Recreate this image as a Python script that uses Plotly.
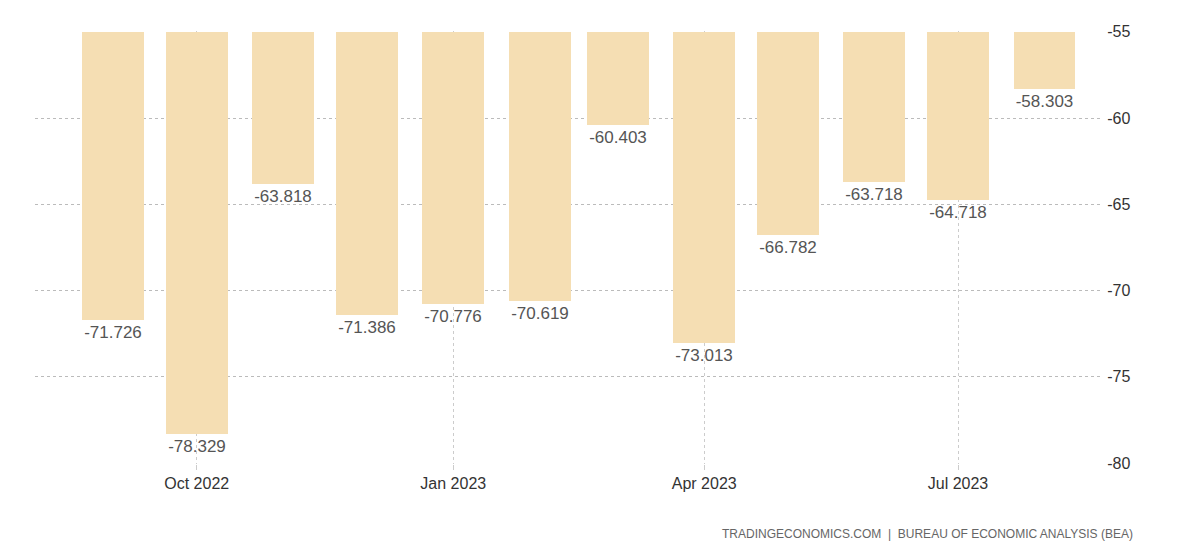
import plotly.graph_objects as go

months = ["2022-09-01", "2022-10-01", "2022-11-01", "2022-12-01", "2023-01-01", "2023-02-01",
          "2023-03-01", "2023-04-01", "2023-05-01", "2023-06-01", "2023-07-01", "2023-08-01"]
balance = [-71.726, -78.329, -63.818, -71.386, -70.776, -70.619,
           -60.403, -73.013, -66.782, -63.718, -64.718, -58.303]
y_ticks = [-55, -60, -65, -70, -75, -80]
base_level = -55

fig = go.Figure(go.Bar(
    x=months, y=[v - base_level for v in balance], base=base_level,
    marker=dict(color="#F5DEB3", line=dict(width=0)),
    width=62 * 0.357 * 86400000,
    text=[f"{v:.3f}" for v in balance], textposition="outside",
    textfont=dict(family="Liberation Sans, Arial", size=17, color="#555555"),
    cliponaxis=False, hoverinfo="x+text",
))

fig.update_layout(
    width=1200, height=558, plot_bgcolor="white", paper_bgcolor="white",
    margin=dict(l=27, r=105, t=23, b=102), showlegend=False, bargap=0,
    font=dict(family="Liberation Sans, Arial", size=16, color="#333333"),
    annotations=[dict(text="TRADINGECONOMICS.COM  |  BUREAU OF ECONOMIC ANALYSIS (BEA)",
                      x=1.03, xref="x domain", y=-0.162, yref="y domain",
                      xanchor="right", yanchor="middle", showarrow=False,
                      font=dict(size=12, color="#666666"))],
)
fig.update_xaxes(
    range=["2022-08-04", "2023-08-22"],
    tickvals=["2022-10-01", "2023-01-01", "2023-04-01", "2023-07-01"],
    ticktext=["Oct 2022", "Jan 2023", "Apr 2023", "Jul 2023"],
    showgrid=True, gridcolor="#cccccc", griddash="dot", gridwidth=1,
    ticks="outside", ticklen=5, tickcolor="#cccccc", showline=False,
    tickfont=dict(size=16, color="#333333"),
)
fig.update_yaxes(
    side="right", range=[-80.05, -54.95], tickvals=y_ticks, ticktext=[str(t) for t in y_ticks],
    showgrid=True, gridcolor="#bbbbbb", griddash="dot", zeroline=False,
    ticks="outside", ticklen=0, tickfont=dict(size=16, color="#333333"),
)

fig.write_html("out.html")
